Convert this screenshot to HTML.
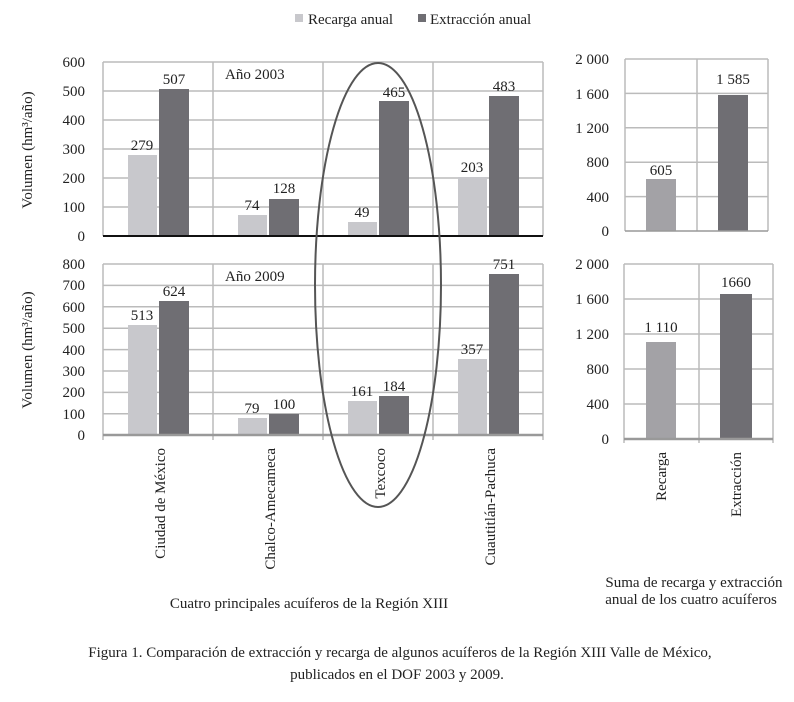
<!DOCTYPE html>
<html><head><meta charset="utf-8"><style>
body{margin:0;background:#fff}
svg text{font-family:"Liberation Serif",serif;font-size:15px;fill:#222}
</style></head><body>
<svg width="794" height="697" viewBox="0 0 794 697" xmlns="http://www.w3.org/2000/svg">
<!-- legend -->
<rect x="295" y="14" width="8" height="8" fill="#c8c8cc"/><text x="308" y="24">Recarga anual</text>
<rect x="418" y="14" width="8" height="8" fill="#6f6e73"/><text x="430" y="24">Extracción anual</text>

<g stroke="#bbb" stroke-width="1.5">
<line x1="103" y1="62" x2="543" y2="62"/><line x1="103" y1="91" x2="543" y2="91"/><line x1="103" y1="120" x2="543" y2="120"/><line x1="103" y1="149" x2="543" y2="149"/><line x1="103" y1="178" x2="543" y2="178"/><line x1="103" y1="207" x2="543" y2="207"/>
<line x1="103" y1="62" x2="103" y2="236"/><line x1="213" y1="62" x2="213" y2="236"/><line x1="323" y1="62" x2="323" y2="236"/><line x1="433" y1="62" x2="433" y2="236"/><line x1="543" y1="62" x2="543" y2="236"/>
</g>
<g fill="#c8c8cc">
<rect x="128" y="155" width="29" height="81"/><rect x="238" y="215" width="29" height="21"/><rect x="348" y="222" width="29" height="14"/><rect x="458" y="177" width="29" height="59"/>
</g>
<g fill="#6f6e73">
<rect x="159" y="89" width="30" height="147"/><rect x="269" y="199" width="30" height="37"/><rect x="379" y="101" width="30" height="135"/><rect x="489" y="96" width="30" height="140"/>
</g>
<line x1="103" y1="236" x2="543" y2="236" stroke="#111" stroke-width="2"/>
<g text-anchor="middle">
<text x="142" y="150">279</text><text x="174" y="84">507</text><text x="252" y="210">74</text><text x="284" y="193">128</text>
<text x="362" y="217">49</text><text x="394" y="97">465</text><text x="472" y="172">203</text><text x="504" y="91">483</text>
</g>
<text x="225" y="79">Año 2003</text>
<g text-anchor="end">
<text x="85" y="67">600</text><text x="85" y="96">500</text><text x="85" y="125">400</text><text x="85" y="154">300</text><text x="85" y="183">200</text><text x="85" y="212">100</text><text x="85" y="241">0</text>
</g>
<text transform="translate(32,150) rotate(-90)" text-anchor="middle">Volumen (hm³/año)</text>

<g stroke="#bbb" stroke-width="1.5">
<line x1="103" y1="264" x2="543" y2="264"/><line x1="103" y1="285.4" x2="543" y2="285.4"/><line x1="103" y1="306.8" x2="543" y2="306.8"/><line x1="103" y1="328.2" x2="543" y2="328.2"/><line x1="103" y1="349.6" x2="543" y2="349.6"/><line x1="103" y1="371" x2="543" y2="371"/><line x1="103" y1="392.4" x2="543" y2="392.4"/><line x1="103" y1="413.8" x2="543" y2="413.8"/>
<line x1="103" y1="264" x2="103" y2="440"/><line x1="213" y1="264" x2="213" y2="440"/><line x1="323" y1="264" x2="323" y2="440"/><line x1="433" y1="264" x2="433" y2="440"/><line x1="543" y1="264" x2="543" y2="440"/>
</g>
<g fill="#c8c8cc">
<rect x="128" y="325" width="29" height="110"/><rect x="238" y="418" width="29" height="17"/><rect x="348" y="401" width="29" height="34"/><rect x="458" y="359" width="29" height="76"/>
</g>
<g fill="#6f6e73">
<rect x="159" y="301" width="30" height="134"/><rect x="269" y="414" width="30" height="21"/><rect x="379" y="396" width="30" height="39"/><rect x="489" y="274" width="30" height="161"/>
</g>
<line x1="103" y1="435" x2="543" y2="435" stroke="#999" stroke-width="2.5"/>
<g text-anchor="middle">
<text x="142" y="320">513</text><text x="174" y="296">624</text><text x="252" y="413">79</text><text x="284" y="409">100</text>
<text x="362" y="396">161</text><text x="394" y="391">184</text><text x="472" y="354">357</text><text x="504" y="269">751</text>
</g>
<text x="225" y="281">Año 2009</text>
<g text-anchor="end">
<text x="85" y="269">800</text><text x="85" y="290">700</text><text x="85" y="312">600</text><text x="85" y="333">500</text><text x="85" y="355">400</text><text x="85" y="376">300</text><text x="85" y="397">200</text><text x="85" y="419">100</text><text x="85" y="440">0</text>
</g>
<text transform="translate(32,350) rotate(-90)" text-anchor="middle">Volumen (hm³/año)</text>

<g text-anchor="end">
<text transform="translate(165,448) rotate(-90)">Ciudad de México</text>
<text transform="translate(275,448) rotate(-90)">Chalco-Amecameca</text>
<text transform="translate(385,448) rotate(-90)">Texcoco</text>
<text transform="translate(495,448) rotate(-90)">Cuautitlán-Pachuca</text>
</g>
<text x="309" y="608" text-anchor="middle">Cuatro principales acuíferos de la Región XIII</text>

<ellipse cx="378" cy="285" rx="63" ry="222" fill="none" stroke="#555" stroke-width="2"/>

<g stroke="#bbb" stroke-width="1.5">
<line x1="625" y1="59" x2="768" y2="59"/><line x1="625" y1="93.4" x2="768" y2="93.4"/><line x1="625" y1="127.8" x2="768" y2="127.8"/><line x1="625" y1="162.2" x2="768" y2="162.2"/><line x1="625" y1="196.6" x2="768" y2="196.6"/>
<line x1="625" y1="59" x2="625" y2="231"/><line x1="697" y1="59" x2="697" y2="231"/><line x1="768" y1="59" x2="768" y2="231"/>
</g>
<rect x="646" y="179" width="30" height="52" fill="#a3a2a6"/>
<rect x="718" y="95" width="30" height="136" fill="#6f6e73"/>
<line x1="625" y1="231" x2="768" y2="231" stroke="#999" stroke-width="1.5"/>
<g text-anchor="middle"><text x="661" y="175">605</text><text x="733" y="84">1 585</text></g>
<g text-anchor="end">
<text x="609" y="64">2 000</text><text x="609" y="99">1 600</text><text x="609" y="133">1 200</text><text x="609" y="167">800</text><text x="609" y="202">400</text><text x="609" y="236">0</text>
</g>

<g stroke="#bbb" stroke-width="1.5">
<line x1="624" y1="264" x2="773" y2="264"/><line x1="624" y1="299" x2="773" y2="299"/><line x1="624" y1="334" x2="773" y2="334"/><line x1="624" y1="369" x2="773" y2="369"/><line x1="624" y1="404" x2="773" y2="404"/>
<line x1="624" y1="264" x2="624" y2="443"/><line x1="699" y1="264" x2="699" y2="443"/><line x1="773" y1="264" x2="773" y2="443"/>
</g>
<rect x="646" y="342" width="30" height="97" fill="#a3a2a6"/>
<rect x="720" y="294" width="32" height="145" fill="#6f6e73"/>
<line x1="624" y1="439" x2="773" y2="439" stroke="#999" stroke-width="2.5"/>
<g text-anchor="middle"><text x="661" y="332">1 110</text><text x="736" y="287">1660</text></g>
<g text-anchor="end">
<text x="609" y="269">2 000</text><text x="609" y="304">1 600</text><text x="609" y="339">1 200</text><text x="609" y="374">800</text><text x="609" y="409">400</text><text x="609" y="444">0</text>
</g>
<g text-anchor="end">
<text transform="translate(666,452) rotate(-90)">Recarga</text>
<text transform="translate(741,452) rotate(-90)">Extracción</text>
</g>
<text x="694" y="587" text-anchor="middle">Suma de recarga y extracción</text>
<text x="691" y="604" text-anchor="middle">anual de los cuatro acuíferos</text>

<text x="400" y="657" text-anchor="middle">Figura 1. Comparación de extracción y recarga de algunos acuíferos de la Región XIII Valle de México,</text>
<text x="397" y="679" text-anchor="middle">publicados en el DOF 2003 y 2009.</text>
</svg>
</body></html>
